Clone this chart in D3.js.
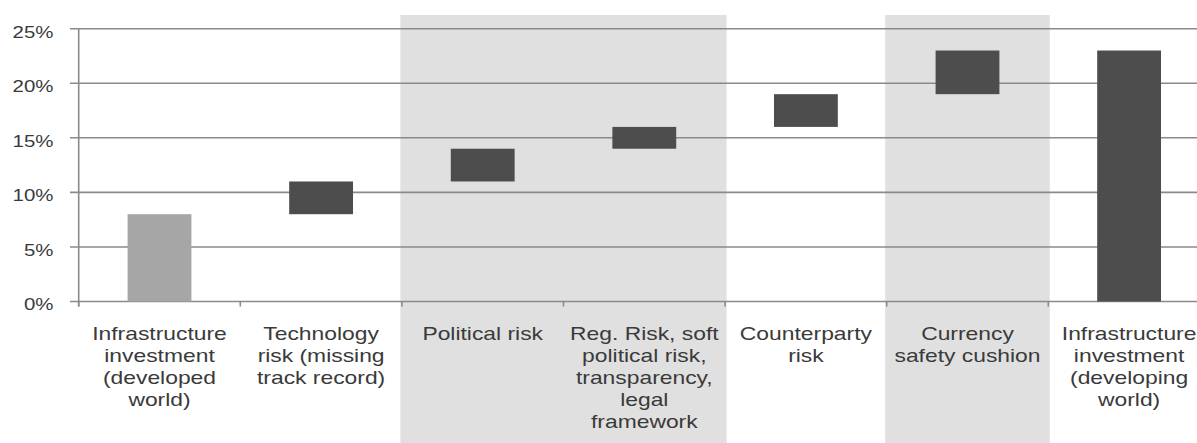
<!DOCTYPE html>
<html>
<head>
<meta charset="utf-8">
<script src="https://cdn.jsdelivr.net/npm/d3@7"></script>
<style>
  html, body { margin: 0; padding: 0; background: #fff; }
  svg { display: block; }
  text { font-family: "Liberation Sans", Arial, sans-serif; fill: #3a3a3a; }
</style>
</head>
<body>
<svg id="chart" width="1197" height="443"></svg>
<script>
// Category labels, one array entry per line of text
const categories = [
  ["Infrastructure", "investment", "(developed", "world)"],
  ["Technology", "risk (missing", "track record)"],
  ["Political risk"],
  ["Reg. Risk, soft", "political risk,", "transparency,", "legal", "framework"],
  ["Counterparty", "risk"],
  ["Currency", "safety cushion"],
  ["Infrastructure", "investment", "(developing", "world)"]
];
// Bottom and top of each bar (percent)
const barLow  = [0, 8, 11, 14, 16, 19, 0];
const barHigh = [8, 11, 14, 16, 19, 23, 23];
// Bar kind: "base" for the starting level, "step" for risk premiums / total
const barKind = ["base", "step", "step", "step", "step", "step", "step"];
// Shaded category groups (first and last index of each)
const shadedGroups = [[2, 3], [5, 5]];
// Y axis ticks
const yTicks = [0, 5, 10, 15, 20, 25];

const svg = d3.select("#chart");
const W = 1197, H = 443;
const left = 78.7, bandStep = 161.6;
const ids = d3.range(categories.length);

const x = d3.scaleBand()
  .domain(ids)
  .range([left, left + bandStep * categories.length])
  .paddingInner(0).paddingOuter(0);

const y = d3.scaleLinear().domain([0, 25]).range([301.5, 28.7]);

// Background shading for grouped categories
svg.append("g").selectAll("rect")
  .data(shadedGroups)
  .join("rect")
  .attr("x", d => x(d[0]) - 1.5)
  .attr("y", 15)
  .attr("width", d => x(d[1]) + x.bandwidth() - x(d[0]) + 3)
  .attr("height", H - 15)
  .attr("fill", "#e0e0e0");

// Horizontal gridlines (include the left tick marks)
svg.append("g").selectAll("line")
  .data(yTicks)
  .join("line")
  .attr("x1", 70).attr("x2", W)
  .attr("y1", d => y(d)).attr("y2", d => y(d))
  .attr("stroke", "#8a8a8a").attr("stroke-width", 1.6);

// Y axis line
svg.append("line")
  .attr("x1", left).attr("x2", left)
  .attr("y1", y(25)).attr("y2", y(0) + 5)
  .attr("stroke", "#8a8a8a").attr("stroke-width", 1.6);

// Category boundary ticks on the x axis
svg.append("g").selectAll("line")
  .data(d3.range(categories.length + 1))
  .join("line")
  .attr("x1", i => left + i * bandStep).attr("x2", i => left + i * bandStep)
  .attr("y1", y(0)).attr("y2", y(0) + 5)
  .attr("stroke", "#8a8a8a").attr("stroke-width", 1.6);

// Y tick labels
svg.append("g").selectAll("text")
  .data(yTicks)
  .join("text")
  .attr("transform", d => `translate(53.5, ${y(d) + 8.8}) scale(1.24, 1)`)
  .attr("text-anchor", "end")
  .attr("font-size", 16.5)
  .text(d => d + "%");

// Bars
const barW = bandStep * 0.395;
svg.append("g").selectAll("rect")
  .data(ids)
  .join("rect")
  .attr("x", i => x(i) + x.bandwidth() / 2 - barW / 2)
  .attr("y", i => y(barHigh[i]))
  .attr("width", barW)
  .attr("height", i => y(barLow[i]) - y(barHigh[i]))
  .attr("fill", i => barKind[i] === "base" ? "#a6a6a6" : "#4d4d4d");

// Category labels
const lab = svg.append("g").selectAll("g")
  .data(ids)
  .join("g")
  .attr("transform", i => `translate(${x(i) + x.bandwidth() / 2}, 340) scale(1.27, 1)`);

lab.selectAll("text")
  .data(i => categories[i])
  .join("text")
  .attr("y", (d, j) => j * 22)
  .attr("text-anchor", "middle")
  .attr("font-size", 18)
  .text(d => d);
</script>
</body>
</html>
